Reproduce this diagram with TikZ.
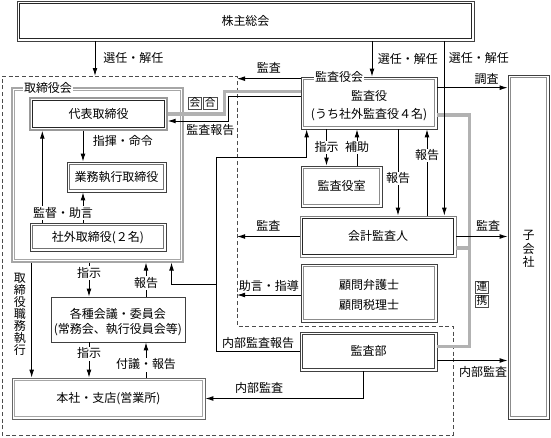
\documentclass[tikz,border=0pt]{standalone}
\usepackage{fontspec}
\setmainfont{Noto Sans CJK JP}
\usetikzlibrary{positioning, calc, arrows.meta}
\tikzset{>={Latex[length=6pt, width=3.6pt]}}
\tikzset{frame/.style={draw=black!75, line width=0.5pt, inner sep=0pt}}
\tikzset{size/.style 2 args={minimum width=#1*0.75pt, minimum height=#2*0.75pt}}
\tikzset{lines/.style={align=center, text height=, text depth=}}
\newcommand{\jline}[1]{\raisebox{-1.5pt}[7pt][1pt]{#1}}

\begin{document}
\begin{tikzpicture}
  [x=0.75pt, y=-0.75pt, inner sep=1pt, text height=7pt, text depth=1pt,
   font=\fontsize{9}{11}\selectfont,
   link/.style={line width=0.7pt},
   lbl/.style={fill=white},
   meet/.style={draw=black!30, line width=2.4pt},
   tag/.style={draw=black!70, line width=0.4pt, inner sep=1pt, text height=6.2pt, text depth=0.9pt, font=\fontsize{8}{8}\selectfont},
   vtext/.style={lines, inner sep=0pt, font=\fontsize{9}{9}\selectfont}]

  \useasboundingbox (0,0) rectangle (551,437);

  % area of the company
  \draw[black!70, line width=0.5pt, dash pattern=on 3pt off 2pt]
    (2,76) -- (237,76) -- (237,326) -- (453,326) -- (453,435) -- (2,435) -- cycle;
  \coordinate (dT) at (95,76);
  \coordinate (dE) at (237,76);

  % boxes
  \node[frame, size={457}{40}] (GM) at (245.5,21) {株主総会};
  \node[frame, draw=black!35, line width=0.8pt, size={171}{174}] (ktb) at (97.5,175) {};
  \node[frame, draw=black!40, line width=1pt, size={137}{32}] (rep) at (98.5,114) {代表取締役};
  \node[frame, size={99}{30}] (exe) at (116.5,177) {業務執行取締役};
  \node[frame, size={136}{28}] (out) at (98,237) {社外取締役(２名)};
  \node[frame, lines, size={136}{52}, font=\fontsize{9}{13.5}\selectfont] (kan) at (369,103)
    {\jline{監査役}\\\jline{(うち社外監査役４名)}};
  \node[frame, size={81}{41}] (room) at (341.5,186.5) {監査役室};
  \node[frame, draw=black!50, size={156}{41}] (acc) at (378,236.5) {会計監査人};
  \node[frame, lines, size={136}{58}, font=\fontsize{9}{15}\selectfont] (adv) at (369,293)
    {\jline{顧問弁護士}\\\jline{顧問税理士}};
  \node[frame, size={137}{39}] (aud) at (368.5,351.5) {監査部};
  \node[frame, lines, size={41}{344}, font=\fontsize{9}{10}\selectfont] (sub) at (528.5,247)
    {\jline{子}\\\jline{会}\\\jline{社}};
  \node[frame, lines, size={134}{45}, font=\fontsize{9}{11.25}\selectfont] (mtg) at (118,319.5)
    {\jline{各種会議・委員会}\\\jline{(常務会、執行役員会等)}};
  \node[frame, draw=black!60, size={193}{41}] (hq) at (108.5,398.5) {本社・支店(営業所)};

  % inner lines of the frames
  \foreach \n/\c/\w in {GM/black!85/0.9, ktb/black!35/0.8, rep/black!85/0.5, exe/black!55/0.5,
      out/black!55/0.5, kan/black!45/0.5, room/black!45/0.5, acc/black!85/0.5, adv/black!45/0.5,
      aud/black!75/0.5, sub/black!45/0.6, hq/black!35/1}
    \draw[\c, line width=\w pt] ([shift={(3,3)}]\n.north west) rectangle ([shift={(-3,-3)}]\n.south east);

  \node[lbl] (ktbT) at (48,88) {取締役会};
  \node[lbl] (kanT) at (339,77) {監査役会};

  % meetings (grey)
  \draw[meet] ($(kan.north west)+(0,15)$) -- ++(-76,0) |- (rep.east);
  \draw[meet] ($(kan.east)+(0,12)$) -- ++(32,0) |- ($(aud.east)+(0,-5)$);
  \draw[meet] ($(acc.east)+(0,11.5)$) -- ++(13,0);
  \node[tag] (tA) at (195,103) {会};
  \node[tag, right=1pt of tA] (tB) {合};
  \node[tag] (tC) at (482,287) {連};
  \node[tag, below=1pt of tC] (tD) {携};

  % general meeting
  \path ($(kan.north)+(3,0)$) coordinate (kIn);
  \path ($(acc.north east)+(-12,0)$) coordinate (aIn);
  \draw[link, ->] (GM.south -| dT) -- node[right=5pt] {選任・解任} (dT);
  \draw[link, ->] (GM.south -| kIn) -- node[right=3pt] {選任・解任} (kIn);
  \draw[link, ->] (GM.south -| aIn) -- node[pos=0.1, right=2pt] {選任・解任} (aIn);

  % auditors
  \draw[link, ->] ($(kan.north west)+(0,2)$) coordinate (k2) -- node[above=2pt] {監査} (k2 -| dE);
  \draw[link, ->] ($(kan.north west)+(0,20)$) -- ++(-72,0) |- node[pos=0.65, below=2pt] {監査報告} ($(rep.east)+(0,7)$);
  \draw[link, ->] ($(kan.north east)+(0,11)$) coordinate (k3) -- node[pos=0.7, above=1pt] {調査} (k3 -| sub.west);

  \path ($(acc.north)+(20,0)$) coordinate (r1);
  \path ($(acc.north)+(49,0)$) coordinate (r2);
  \draw[link, ->] (kan.south -| r1) -- node[lbl, pos=0.57] {報告} (r1);
  \draw[link, ->] (r2) -- node[lbl, pos=0.7] {報告} (kan.south -| r2);

  \path ($(room.north)+(-15,0)$) coordinate (s1);
  \path ($(room.north)+(15.5,0)$) coordinate (s2);
  \draw[link, ->] (kan.south -| s1) -- node[lbl] {指示} (s1);
  \draw[link, ->] (s2) -- node[lbl] {補助} (kan.south -| s2);

  \draw[link, ->] (acc.west) -- node[above=2pt] {監査} (acc.west -| dE);
  \draw[link, ->] ($(adv.west)+(0,2)$) coordinate (a2) -- node[above=1pt] {助言・指導} (a2 -| dE);
  \draw[link, ->] (acc.east) -- node[pos=0.62, above=2pt] {監査} (acc.east -| sub.west);

  % internal audit
  \draw[link, ->] (aud.west) -- node[above=1pt] {内部監査報告} ++(-83,0) coordinate (ia)
    |- ($(kan.south west)+(6,28)$) -- ($(kan.south west)+(6,0)$);
  \path ($(ktb.south east)+(-12,22)$) coordinate (ib);
  \draw[link, ->] (ib -| ia) -- (ib) -- (ktb.south -| ib);
  \draw[link, ->] ($(aud.east)+(0,9)$) coordinate (a3) -- node[pos=0.65, below=4pt] {内部監査} (a3 -| sub.west);
  \draw[link, ->] ($(aud.south)+(-5,0)$) |- node[pos=0.83, above=2pt] {内部監査} (hq.east);

  % board of directors
  \path ($(mtg.north)+(-29,0)$) coordinate (m1);
  \path ($(mtg.north)+(28,0)$) coordinate (m2);
  \path ($(mtg.south)+(-29,0)$) coordinate (m3);
  \path ($(mtg.south)+(28,0)$) coordinate (m4);
  \draw[link, ->] (ktb.south -| m1) -- node[lbl, pos=0.31] {指示} (m1);
  \draw[link, ->] (m2) -- node[lbl, pos=0.4] {報告} (ktb.south -| m2);
  \draw[link, ->] (m3) -- node[lbl, pos=0.33] {指示} (hq.north -| m3);
  \draw[link, ->] (hq.north -| m4) -- node[lbl, pos=0.36] {付議・報告} (m4);

  \path ($(hq.north west)+(20,0)$) coordinate (h1);
  \draw[link, ->] (ktb.south -| h1) -- node[pos=0.43, left=4pt, vtext]
    {\jline{取}\\\jline{締}\\\jline{役}\\\jline{職}\\\jline{務}\\\jline{執}\\\jline{行}} (h1);

  \path ($(exe.north)+(-33.5,0)$) coordinate (e1);
  \path ($(exe.south)+(-33.5,0)$) coordinate (e2);
  \path ($(rep.south west)+(13,0)$) coordinate (e3);
  \draw[link, ->] (rep.south -| e1) -- node[pos=0.35, right=6pt] {指揮・命令} (e1);
  \draw[link, ->] (out.north -| e2) -- (e2);
  \draw[link, ->] (out.north -| e3) -- (e3);
  \node[lbl] (sup) at (63,213) {監督・助言};
\end{tikzpicture}
\end{document}
